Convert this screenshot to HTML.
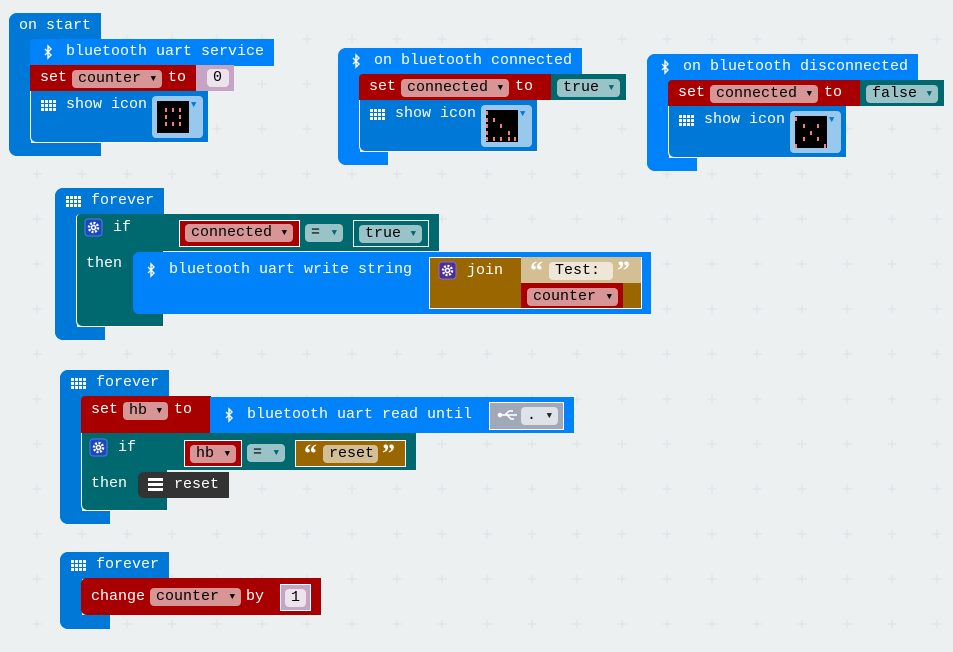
<!DOCTYPE html>
<html><head><meta charset="utf-8">
<style>
*{margin:0;padding:0;box-sizing:border-box}
body{width:953px;height:652px;overflow:hidden;background:#ecf0f1;position:relative;font-family:"Liberation Mono","DejaVu Sans Mono",monospace;font-size:15px}
.b{position:absolute}
.t{position:absolute;color:#fff;line-height:18px;white-space:pre}
.q{position:absolute;color:#fff;line-height:22px;font-family:"Liberation Serif",serif;font-size:26px;font-weight:bold}
.p{position:absolute;height:18px;border-radius:4px;color:#000;line-height:18px;white-space:pre;padding-left:6px}
.ev{background:#0078d7}
.bt{background:#0082fb}
.rd{background:#a80000}
.tl{background:#006970}
.br{background:#996600}
.vp{background:#d89595}
.tp{background:#99c3c6}
.arr{position:absolute;right:6px;top:0;font-size:9px}
.wb{outline:1px solid #fff;outline-offset:-1px}
</style></head><body>
<svg class="b" style="left:0;top:0" width="953" height="652">
<defs><pattern id="g" x="15" y="17" width="45" height="45" patternUnits="userSpaceOnUse">
<path d="M22 17.5V26.5M17.5 22H26.5" stroke="#dce1e3" stroke-width="1"/></pattern></defs>
<rect width="953" height="652" fill="url(#g)"/></svg>

<!-- ON START -->
<div class="b ev" style="left:9px;top:13px;width:92px;height:27px;border-radius:8px 0 0 0"></div>
<div class="b ev" style="left:9px;top:13px;width:22px;height:143px;border-radius:8px 0 0 8px"></div>
<div class="b ev" style="left:9px;top:143px;width:92px;height:13px;border-radius:0 0 0 8px"></div>
<div class="t" style="left:19px;top:17px">on start</div>
<div class="b bt" style="left:30px;top:39px;width:244px;height:27px;border-radius:4px 0 0 0"></div>
<div class="t" style="left:66px;top:43px">bluetooth uart service</div>
<div class="b rd" style="left:30px;top:65px;width:174px;height:26px"></div>
<div class="t" style="left:40px;top:69px">set</div>
<div class="p vp" style="left:72px;top:70px;width:90px">counter<span class="arr">▼</span></div>
<div class="t" style="left:168px;top:69px">to</div>
<div class="b" style="left:196px;top:65px;width:38px;height:26px;background:#c5a4c5"></div>
<div class="p" style="left:207px;top:69px;width:22px;background:#ece3ec">0</div>
<div class="b ev" style="left:30px;top:91px;width:178px;height:52px;border-radius:0 0 0 6px;border-left:1px solid #fff;border-bottom:1px solid #fff"></div>
<div class="t" style="left:66px;top:96px">show icon</div>
<div class="b" style="left:152px;top:96px;width:51px;height:42px;background:#99c8ef;border-radius:4px"></div>
<div class="t" style="left:191px;top:96px;color:#0078d7;font-size:9px">▼</div>

<!-- CONNECTED -->
<div class="b bt" style="left:338px;top:48px;width:244px;height:27px;border-radius:8px 0 0 0"></div>
<div class="b bt" style="left:338px;top:48px;width:22px;height:117px;border-radius:8px 0 0 8px"></div>
<div class="b bt" style="left:338px;top:152px;width:50px;height:13px;border-radius:0 0 0 8px"></div>
<div class="t" style="left:374px;top:52px">on bluetooth connected</div>
<div class="b rd" style="left:359px;top:74px;width:192px;height:26px;border-radius:4px 0 0 0"></div>
<div class="t" style="left:369px;top:78px">set</div>
<div class="p vp" style="left:401px;top:79px;width:108px">connected<span class="arr">▼</span></div>
<div class="t" style="left:515px;top:78px">to</div>
<div class="b tl" style="left:551px;top:74px;width:75px;height:26px"></div>
<div class="p tp" style="left:557px;top:79px;width:63px">true<span class="arr" style="color:#006970">▼</span></div>
<div class="b ev" style="left:359px;top:100px;width:178px;height:52px;border-radius:0 0 0 6px;border-left:1px solid #fff;border-bottom:1px solid #fff"></div>
<div class="t" style="left:395px;top:105px">show icon</div>
<div class="b" style="left:481px;top:105px;width:51px;height:42px;background:#99c8ef;border-radius:4px"></div>
<div class="t" style="left:520px;top:105px;color:#0078d7;font-size:9px">▼</div>

<!-- DISCONNECTED -->
<div class="b bt" style="left:647px;top:54px;width:271px;height:27px;border-radius:8px 0 0 0"></div>
<div class="b bt" style="left:647px;top:54px;width:22px;height:117px;border-radius:8px 0 0 8px"></div>
<div class="b bt" style="left:647px;top:158px;width:50px;height:13px;border-radius:0 0 0 8px"></div>
<div class="t" style="left:683px;top:58px">on bluetooth disconnected</div>
<div class="b rd" style="left:668px;top:80px;width:192px;height:26px;border-radius:4px 0 0 0"></div>
<div class="t" style="left:678px;top:84px">set</div>
<div class="p vp" style="left:710px;top:85px;width:108px">connected<span class="arr">▼</span></div>
<div class="t" style="left:824px;top:84px">to</div>
<div class="b tl" style="left:860px;top:80px;width:84px;height:26px"></div>
<div class="p tp" style="left:866px;top:85px;width:72px">false<span class="arr" style="color:#006970">▼</span></div>
<div class="b ev" style="left:668px;top:106px;width:178px;height:52px;border-radius:0 0 0 6px;border-left:1px solid #fff;border-bottom:1px solid #fff"></div>
<div class="t" style="left:704px;top:111px">show icon</div>
<div class="b" style="left:790px;top:111px;width:51px;height:42px;background:#99c8ef;border-radius:4px"></div>
<div class="t" style="left:829px;top:111px;color:#0078d7;font-size:9px">▼</div>

<!-- FOREVER 1 -->
<div class="b ev" style="left:55px;top:188px;width:109px;height:27px;border-radius:8px 0 0 0"></div>
<div class="b ev" style="left:55px;top:188px;width:22px;height:152px;border-radius:8px 0 0 8px"></div>
<div class="b ev" style="left:55px;top:327px;width:50px;height:13px;border-radius:0 0 0 8px"></div>
<div class="t" style="left:91px;top:192px">forever</div>
<div class="b tl" style="left:76px;top:214px;width:363px;height:37px;border-radius:4px 0 0 0"></div>
<div class="b tl" style="left:76px;top:214px;width:87px;height:113px;border-radius:4px 0 0 6px;border-left:1px solid #fff;border-bottom:1px solid #fff"></div>
<div class="t" style="left:113px;top:219px">if</div>
<div class="t" style="left:86px;top:255px">then</div>
<div class="b rd wb" style="left:179px;top:220px;width:121px;height:27px"></div>
<div class="p vp" style="left:185px;top:224px;width:108px">connected<span class="arr">▼</span></div>
<div class="p tp" style="left:305px;top:224px;width:38px">=<span class="arr" style="color:#006970">▼</span></div>
<div class="b tl wb" style="left:353px;top:220px;width:76px;height:27px"></div>
<div class="p tp" style="left:359px;top:225px;width:63px">true<span class="arr" style="color:#006970">▼</span></div>
<div class="b bt" style="left:133px;top:252px;width:518px;height:62px;border-radius:6px 0 0 6px"></div>
<div class="t" style="left:169px;top:261px">bluetooth uart write string</div>
<div class="b br wb" style="left:429px;top:257px;width:213px;height:52px"></div>
<div class="t" style="left:467px;top:262px">join</div>
<div class="b" style="left:521px;top:257px;width:120px;height:26px;background:#d4bf95"></div>
<div class="q" style="left:530px;top:260px">“</div>
<div class="p" style="left:549px;top:262px;width:64px;background:#eee6d6">Test:</div>
<div class="q" style="left:617px;top:260px">”</div>
<div class="b rd" style="left:521px;top:283px;width:102px;height:25px"></div>
<div class="p vp" style="left:527px;top:288px;width:91px">counter<span class="arr">▼</span></div>

<!-- FOREVER 2 -->
<div class="b ev" style="left:60px;top:370px;width:109px;height:27px;border-radius:8px 0 0 0"></div>
<div class="b ev" style="left:60px;top:370px;width:22px;height:154px;border-radius:8px 0 0 8px"></div>
<div class="b ev" style="left:60px;top:511px;width:50px;height:13px;border-radius:0 0 0 8px"></div>
<div class="t" style="left:96px;top:374px">forever</div>
<div class="b rd" style="left:81px;top:396px;width:130px;height:38px;border-radius:4px 0 0 0"></div>
<div class="t" style="left:91px;top:401px">set</div>
<div class="p vp" style="left:123px;top:402px;width:45px">hb<span class="arr">▼</span></div>
<div class="t" style="left:174px;top:401px">to</div>
<div class="b bt" style="left:210px;top:397px;width:364px;height:36px"></div>
<div class="t" style="left:247px;top:406px">bluetooth uart read until</div>
<div class="b wb" style="left:489px;top:402px;width:75px;height:28px;background:#a1a9b8"></div>
<div class="p" style="left:521px;top:407px;width:37px;background:#dfe2e8">.<span class="arr" style="color:#222">▼</span></div>
<div class="b tl" style="left:81px;top:433px;width:335px;height:37px"></div>
<div class="b tl" style="left:81px;top:433px;width:86px;height:78px;border-radius:0 0 0 6px;border-left:1px solid #fff;border-bottom:1px solid #fff"></div>
<div class="t" style="left:118px;top:439px">if</div>
<div class="t" style="left:91px;top:475px">then</div>
<div class="b rd wb" style="left:184px;top:440px;width:58px;height:27px"></div>
<div class="p vp" style="left:190px;top:445px;width:46px">hb<span class="arr">▼</span></div>
<div class="p tp" style="left:247px;top:444px;width:38px">=<span class="arr" style="color:#006970">▼</span></div>
<div class="b br wb" style="left:295px;top:440px;width:111px;height:27px"></div>
<div class="q" style="left:304px;top:443px">“</div>
<div class="p" style="left:323px;top:445px;width:55px;background:#d4bf95">reset</div>
<div class="q" style="left:382px;top:443px">”</div>
<div class="b" style="left:138px;top:472px;width:91px;height:26px;background:#333;border-radius:6px 0 0 6px"></div>
<div class="t" style="left:174px;top:476px">reset</div>
<svg class="b" style="left:148px;top:478px" width="15" height="14"><rect x="0" y="0" width="15" height="3" fill="#fff"/><rect x="0" y="5" width="15" height="3" fill="#fff"/><rect x="0" y="10" width="15" height="3" fill="#fff"/></svg>

<!-- FOREVER 3 -->
<div class="b ev" style="left:60px;top:552px;width:109px;height:27px;border-radius:8px 0 0 0"></div>
<div class="b ev" style="left:60px;top:552px;width:22px;height:77px;border-radius:8px 0 0 8px"></div>
<div class="b ev" style="left:60px;top:615px;width:50px;height:14px;border-radius:0 0 0 8px"></div>
<div class="t" style="left:96px;top:556px">forever</div>
<div class="b rd" style="left:81px;top:578px;width:240px;height:37px;border-radius:6px 0 0 6px"></div>
<div class="t" style="left:91px;top:588px">change</div>
<div class="p vp" style="left:150px;top:588px;width:91px">counter<span class="arr">▼</span></div>
<div class="t" style="left:246px;top:588px">by</div>
<div class="b wb" style="left:280px;top:584px;width:31px;height:27px;background:#c5a4c5"></div>
<div class="p" style="left:285px;top:589px;width:21px;background:#ece3ec">1</div>

<!-- icons -->
<svg class="b" style="left:0;top:0" width="953" height="652">
<defs>
<g id="bt"><path d="M-3 -3L3 3L0 6V-6L3 -3L-3 3" stroke="#fff" stroke-width="1.4" fill="none"/></g>
<g id="gr"><g fill="#fff">
<rect x="0" y="0" width="3" height="3"/><rect x="4" y="0" width="3" height="3"/><rect x="8" y="0" width="3" height="3"/><rect x="12" y="0" width="3" height="3"/>
<rect x="0" y="4" width="3" height="3"/><rect x="4" y="4" width="3" height="3"/><rect x="8" y="4" width="3" height="3"/><rect x="12" y="4" width="3" height="3"/>
<rect x="0" y="8" width="3" height="3"/><rect x="4" y="8" width="3" height="3"/><rect x="8" y="8" width="3" height="3"/><rect x="12" y="8" width="3" height="3"/></g></g>
<g id="gear"><rect x="0" y="0" width="17" height="17" rx="3" fill="#1a47c4" stroke="#5a7bd8"/><circle cx="8.5" cy="8.5" r="4.5" fill="none" stroke="#fff" stroke-width="2.5" stroke-dasharray="2 1.5"/><circle cx="8.5" cy="8.5" r="2" fill="none" stroke="#fff" stroke-width="1.5"/></g>
<g id="gear2"><rect x="0" y="0" width="17" height="17" rx="3" fill="#4b2d9b" stroke="#8a70c0"/><circle cx="8.5" cy="8.5" r="4.5" fill="none" stroke="#fff" stroke-width="2.5" stroke-dasharray="2 1.5"/><circle cx="8.5" cy="8.5" r="2" fill="none" stroke="#fff" stroke-width="1.5"/></g>
</defs>
<use href="#bt" x="48" y="52"/><use href="#bt" x="356" y="61"/><use href="#bt" x="665" y="67"/><use href="#bt" x="151" y="270"/><use href="#bt" x="229" y="415"/>
<use href="#gr" x="41" y="100"/><use href="#gr" x="370" y="109"/><use href="#gr" x="679" y="115"/><use href="#gr" x="66" y="196"/><use href="#gr" x="71" y="378"/><use href="#gr" x="71" y="560"/>
<use href="#gear" x="85" y="219"/><use href="#gear" x="90" y="439"/><use href="#gear2" x="439" y="262"/>
<g stroke="#fff" stroke-width="1.5" fill="#fff"><path d="M500 415H517M505 415L509 411H513M507 415L511 419H514" fill="none"/><circle cx="500" cy="415" r="1.5"/></g>
<rect x="157" y="101" width="32" height="32" fill="#000"/>
<g fill="#f08080"><rect x="165" y="108" width="2" height="4"/><rect x="172" y="108" width="2" height="4"/><rect x="179" y="108" width="2" height="4"/><rect x="165" y="115" width="2" height="4"/><rect x="179" y="115" width="2" height="4"/><rect x="165" y="122" width="2" height="4"/><rect x="172" y="122" width="2" height="4"/><rect x="179" y="122" width="2" height="4"/></g>
<rect x="486" y="110" width="32" height="32" fill="#000"/>
<g fill="#f08080"><rect x="486" y="111" width="2" height="4"/><rect x="486" y="118" width="2" height="4"/><rect x="486" y="124" width="2" height="4"/><rect x="486" y="131" width="2" height="4"/><rect x="486" y="137" width="2" height="4"/><rect x="493" y="118" width="2" height="4"/><rect x="500" y="124" width="2" height="4"/><rect x="508" y="131" width="2" height="4"/><rect x="493" y="137" width="2" height="4"/><rect x="500" y="137" width="2" height="4"/><rect x="508" y="137" width="2" height="4"/><rect x="514" y="137" width="2" height="4"/></g>
<rect x="795" y="116" width="32" height="32" fill="#000"/>
<g fill="#f08080"><rect x="795" y="117" width="2" height="4"/><rect x="817" y="124" width="2" height="4"/><rect x="810" y="131" width="2" height="4"/><rect x="803" y="124" width="2" height="4"/><rect x="803" y="137" width="2" height="4"/><rect x="817" y="137" width="2" height="4"/><rect x="795" y="144" width="2" height="4"/><rect x="824" y="144" width="2" height="4"/></g>
</svg>
</body></html>
